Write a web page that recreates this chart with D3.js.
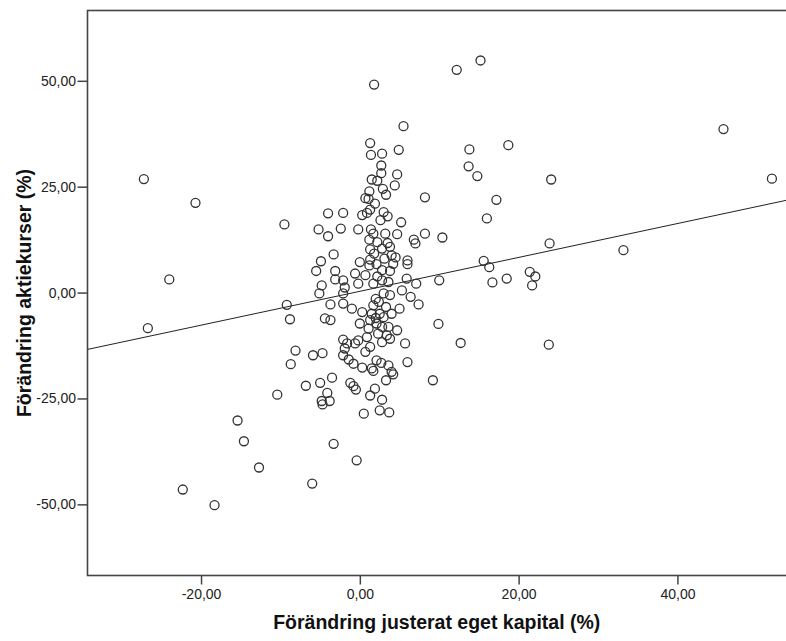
<!DOCTYPE html>
<html>
<head>
<meta charset="utf-8">
<script src="https://cdn.jsdelivr.net/npm/d3@7/dist/d3.min.js"></script>
<style>
  body { margin: 0; background: #fff; }
  #chart text { font-family: "Liberation Sans", Arial, sans-serif; }
</style>
</head>
<body>
<div id="chart"></div>
<script>
// förändring justerat eget kapital (%) -- x
const eqChange = [
  -27.2, -20.7, -9.5, -24.0,
  -26.7, -9.2, -8.8, -8.1, -8.7, -6.8, -10.4, -15.4, -14.6, -12.7, -22.3, -18.3, -6.0,
  12.2, 15.2, 45.8, 51.9, 13.8, 18.7, 13.7, 14.8, 24.1, 8.2, 17.2, 16.0, 8.2, 10.4, 23.9,
  33.2, 15.6, 16.3, 10.0, 16.7, 18.5, 21.4, 22.1, 21.7,
  9.9, 12.7, 23.8, 9.2,
  1.8,
  5.5, 1.3, 4.9, 1.4, 2.8, 2.7, 2.7, 4.7, 1.5, 2.2, 4.4, 2.9, 3.3, 1.2, 0.7, 1.1, 1.9,
  -4.0, -2.1, 0.3, 0.9, 1.3, 3.0, 3.5, 2.6, 5.2, -5.2, -4.0, -2.4, -0.2, 1.4, 1.7, 3.2,
  4.7, 6.8, 7.0, 1.2, 2.2, 3.5, 1.3, 2.8, 3.8, -3.3, -4.9, -5.5, -3.1, 0.0, 1.3, 1.2,
  2.1, 4.0, 4.5, 4.2, 6.0, 6.0, 2.8, 3.8, -0.6, 0.7, -2.1, -3.1, -0.2, 1.7, 2.8, 3.6,
  5.9, 7.1, -4.8, -1.9,
  -5.1, 5.3, 6.4, 7.4, -3.7, -2.1, -2.1, -1.0, 0.3, 1.5, 2.5, 1.7, 3.0, 3.8, 5.0, 4.0,
  -4.4, -3.7, 0.0, 1.3, 1.1, 2.1, 2.8, 3.6, 4.7, 3.4, 2.3, 0.9, -0.2, -2.1, -1.6, -0.6,
  -1.9, 1.3, 0.7, 2.8, 3.8, 5.7, -5.9, -4.7, -2.1, -1.4, -0.8, 2.1, 2.7, 3.6, 6.0, 0.3, 1.5,
  1.7, 4.0, 4.2, 3.3, -5.0, -3.5, -1.2, -0.8, -0.5, 1.9, 1.3, 2.8, -4.1, -4.8, -4.7, -3.8,
  0.5, 2.5, 3.7, -3.3, -0.4,
  2.0, 3.3, 2.0, 3.0, 2.4, 2.2, 3.1, 1.8
];
// förändring aktiekurser (%) -- y
const priceChange = [
  26.8, 21.2, 16.1, 3.1,
  -8.4, -2.9, -6.3, -13.7, -16.9, -22.0, -24.1, -30.2, -35.1, -41.3, -46.5, -50.2, -45.1,
  52.6, 54.8, 38.6, 26.9, 33.8, 34.8, 29.8, 27.5, 26.7, 22.5, 21.9, 17.5, 13.9, 13.0, 11.6,
  10.0, 7.5, 6.0, 2.9, 2.4, 3.3, 4.9, 3.8, 1.7,
  -7.4, -11.9, -12.3, -20.7,
  49.1,
  39.3, 35.3, 33.7, 32.5, 32.8, 30.0, 28.2, 27.9, 26.7, 26.4, 25.3, 24.5, 23.1, 23.9, 22.3, 22.1, 21.0,
  18.7, 18.8, 18.3, 18.8, 19.6, 19.0, 18.0, 17.1, 16.6, 14.9, 13.3, 15.1, 14.9, 14.9, 13.9, 13.9,
  13.8, 12.5, 11.6, 12.5, 11.9, 11.7, 10.2, 10.4, 10.8, 9.0, 7.4, 5.1, 5.1, 7.2, 7.8, 6.4,
  6.7, 8.8, 8.3, 6.8, 7.6, 6.7, 5.3, 5.1, 4.5, 4.1, 2.9, 3.1, 2.1, 2.1, 2.9, 2.5,
  3.3, 2.1, 1.7, 1.2,
  -0.2, 0.5, -1.0, -2.8, -2.8, -0.2, -2.6, -3.8, -4.6, -5.0, -5.0, -3.0, -0.2, -0.6, -3.8, -5.0,
  -6.1, -6.5, -7.3, -6.5, -8.5, -7.3, -8.1, -8.1, -8.9, -10.1, -9.7, -10.5, -11.3, -11.1, -12.0, -12.0,
  -13.2, -12.8, -14.0, -11.7, -10.9, -12.0, -14.8, -14.3, -14.8, -15.8, -16.8, -16.0, -16.6, -17.2, -16.4, -17.7, -17.9,
  -18.5, -18.7, -19.3, -20.7, -21.3, -20.1, -21.3, -22.1, -22.9, -22.7, -24.3, -25.3, -23.7, -25.6, -26.4, -25.6,
  -28.6, -27.8, -28.3, -35.7, -39.6,
  -1.5, -3.4, -6.0, -5.8, -2.2, 3.8, 8.0, 9.2
];

const xTicks = [-20, 0, 20, 40];
const yTicks = [-50, -25, 0, 25, 50];
const xDomain = [-34.3, 53.8];
const yDomain = [-66.8, 66.6];
// anpassad linje (linjär regression)
const fitIntercept = 0.3;
const fitSlope = 0.40;

const xTitle = "Förändring justerat eget kapital (%)";
const yTitle = "Förändring aktiekurser (%)";

const width = 786;
const height = 641;
const margin = { top: 10.5, right: -1, bottom: 65.5, left: 87.5 };

const svg = d3.select("#chart").append("svg")
  .attr("width", width)
  .attr("height", height);

const x = d3.scaleLinear().domain(xDomain).range([margin.left, width - margin.right]);
const y = d3.scaleLinear().domain(yDomain).range([height - margin.bottom, margin.top]);

// svensk formatering: 25,00
const sv = d3.formatLocale({ decimal: ",", thousands: " ", grouping: [3], currency: ["", " kr"], minus: "-" });
const fmt = sv.format(".2f");

svg.append("clipPath").attr("id", "plotclip")
  .append("rect")
  .attr("x", margin.left).attr("y", margin.top)
  .attr("width", width - margin.right - margin.left)
  .attr("height", height - margin.bottom - margin.top);

const axisColor = "#444";

const xAxis = svg.append("g")
  .attr("transform", `translate(0,${height - margin.bottom})`)
  .call(d3.axisBottom(x).tickValues(xTicks).tickFormat(fmt).tickSize(9).tickPadding(5));
const yAxis = svg.append("g")
  .attr("transform", `translate(${margin.left},0)`)
  .call(d3.axisLeft(y).tickValues(yTicks).tickFormat(fmt).tickSize(10).tickPadding(1.5));

[xAxis, yAxis].forEach(g => {
  g.select(".domain").remove();
  g.selectAll(".tick line").attr("stroke", axisColor).attr("stroke-width", 1.5);
  g.selectAll(".tick text").attr("fill", "#222").style("font-size", "14px");
});

// ram
svg.append("rect")
  .attr("x", margin.left).attr("y", margin.top)
  .attr("width", width - margin.right - margin.left)
  .attr("height", height - margin.bottom - margin.top)
  .attr("fill", "none")
  .attr("stroke", axisColor)
  .attr("stroke-width", 1.6);

const plot = svg.append("g").attr("clip-path", "url(#plotclip)");

// regressionslinje
plot.append("line")
  .attr("x1", x(xDomain[0])).attr("y1", y(fitIntercept + fitSlope * xDomain[0]))
  .attr("x2", x(xDomain[1])).attr("y2", y(fitIntercept + fitSlope * xDomain[1]))
  .attr("stroke", "#222")
  .attr("stroke-width", 1);

const punkter = eqChange.map((v, i) => ({ x: v, y: priceChange[i] }));

plot.append("g")
  .selectAll("circle")
  .data(punkter)
  .join("circle")
  .attr("cx", d => x(d.x))
  .attr("cy", d => y(d.y))
  .attr("r", 4.5)
  .attr("fill", "none")
  .attr("stroke", "#333")
  .attr("stroke-width", 1.3);

svg.append("text")
  .attr("x", (margin.left + width) / 2)
  .attr("y", 629)
  .attr("text-anchor", "middle")
  .style("font-size", "19.5px")
  .style("font-weight", "bold")
  .attr("fill", "#111")
  .text(xTitle);

svg.append("text")
  .attr("transform", `translate(31,${(margin.top + height - margin.bottom) / 2}) rotate(-90)`)
  .attr("text-anchor", "middle")
  .style("font-size", "19.5px")
  .style("font-weight", "bold")
  .attr("fill", "#111")
  .text(yTitle);
</script>
</body>
</html>
